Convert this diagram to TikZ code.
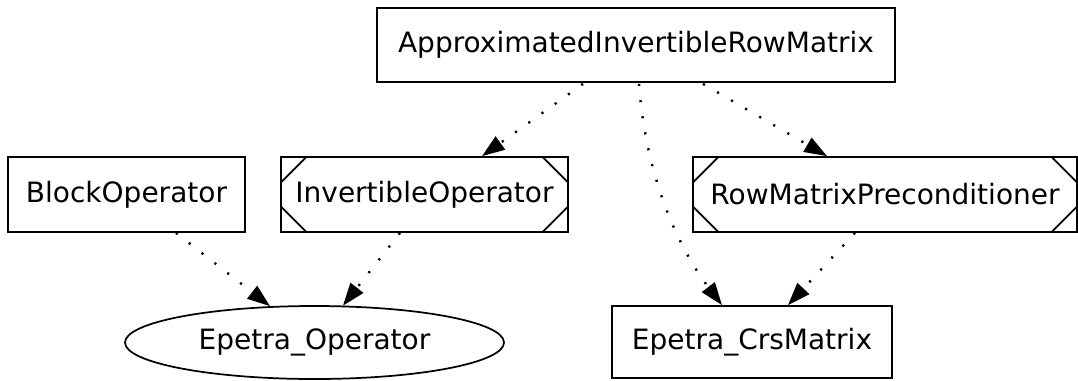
\documentclass[tikz,border=0pt]{standalone}
\usepackage{fontspec}
\setmainfont{DejaVu Sans}
\usetikzlibrary{shapes.geometric,arrows.meta,calc}

\tikzset{
  box/.style={draw, line width=1.3pt, rectangle, inner sep=0pt,
    font=\fontsize{21}{25}\selectfont},
  msq/.style={box, path picture={
    \draw[line width=1.3pt]
      ([yshift=-19pt]path picture bounding box.north west) -- ([xshift=19pt]path picture bounding box.north west)
      ([yshift=19pt]path picture bounding box.south west) -- ([xshift=19pt]path picture bounding box.south west)
      ([yshift=-19pt]path picture bounding box.north east) -- ([xshift=-19pt]path picture bounding box.north east)
      ([yshift=19pt]path picture bounding box.south east) -- ([xshift=-19pt]path picture bounding box.south east);
  }},
  oval/.style={draw, line width=1.3pt, ellipse, inner sep=0pt,
    font=\fontsize{21}{25}\selectfont},
  dep/.style={line width=1.8pt, dash pattern=on 1.6pt off 10.6pt,
    -{Triangle[length=17pt,width=12pt]}},
}

\begin{document}
\begin{tikzpicture}[x=0.75pt, y=-0.75pt]
  \fill[white] (0,0) rectangle (1078,380);
  \useasboundingbox (0,0) rectangle (1078,380);

  \node[box, minimum width=388.5pt, minimum height=55.5pt] (top) at (636,45) {ApproximatedInvertibleRowMatrix};
  \node[box, minimum width=177.75pt, minimum height=56.25pt] (block) at (126.5,194.5) {BlockOperator};
  \node[msq, minimum width=215.25pt, minimum height=56.25pt] (inv) at (424.5,194.5) {InvertibleOperator};
  \node[msq, minimum width=288pt, minimum height=56.25pt] (row) at (885,194.5) {RowMatrixPreconditioner};
  \node[oval, minimum width=284.25pt, minimum height=54.75pt] (eop) at (314.5,342.5) {Epetra\_Operator};
  \node[box, minimum width=210pt, minimum height=54pt] (crs) at (752,342) {Epetra\_CrsMatrix};

  \draw[dep] ($(top.south)+(-53,1)$) -- ($(inv.north)+(57.5,0)$);
  \draw[dep] ($(top.south)+(67,1)$) -- ($(row.north)+(-58,0)$);
  \draw[dep] ($(top.south)+(3,1)$) .. controls (646,180) and (680,250) .. ($(crs.north)+(-30,0)$);
  \draw[dep] ($(block.south)+(49.5,0)$) -- ($(eop.north)+(-44.5,1)$);
  \draw[dep] ($(inv.south)+(-24.5,0)$) -- ($(eop.north)+(28.5,0.5)$);
  \draw[dep] ($(row.south)+(-30,0)$) -- ($(crs.north)+(36,0)$);
\end{tikzpicture}
\end{document}
